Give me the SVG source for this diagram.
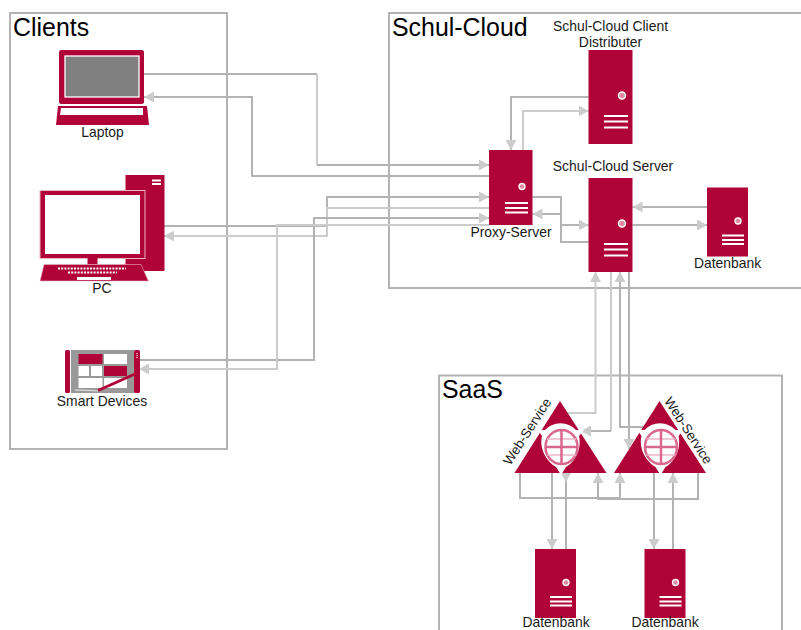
<svg xmlns="http://www.w3.org/2000/svg" width="801" height="630" viewBox="0 0 801 630">
<style>
text{font-family:"Liberation Sans",Arial,sans-serif;font-size:13.9px;fill:#1a1a1a}
.h{font-size:24.9px;fill:#000}
.m{text-anchor:middle}
.w{font-size:13.4px}
.fr{fill:none;stroke:#b3b3b3;stroke-width:2}
.red{fill:#b00337}
.wh{fill:#fff}
.c{fill:none;stroke:#b3b3b3;stroke-width:2}
.l{fill:none;stroke:#ccc;stroke-width:2}
.a{marker-end:url(#ah)}
.ln{stroke:#fff;stroke-width:2;fill:none}
.pk{fill:none;stroke:#eeb5c6;stroke-width:1.500}
</style>
<defs>
<marker id="ah" markerUnits="userSpaceOnUse" markerWidth="10" markerHeight="11" refX="10" refY="5.5" orient="auto"><path d="M0 0L10 5.500L0 11z" fill="#ccc"/></marker>
<g id="srv"><rect class="red" width="44" height="94"/><circle cx="33.500" cy="45.500" r="3.500" fill="#e58aa5" stroke="#fff" stroke-width="1.500"/><path class="ln" d="M15.500 66H39.500M15.500 71.500H39.500M15.500 77.500H39.500"/></g>
<g id="db"><rect class="red" width="41" height="69"/><circle cx="31" cy="33.500" r="3" fill="#e58aa5" stroke="#fff" stroke-width="1.300"/><path class="ln" stroke-width="1.500" d="M15 48H37M15 52.500H37M15 56.500H37"/></g>
<g id="ws">
<path class="red" d="M0 -46L46.500 26H-45.500z"/>
<path class="wh" d="M-22 -17H-15A21 21 0 0 1 16 -17H24L19 -11C22 2 15 15 6 20L1 28L-4 20C-14 14 -21 1 -18 -11z"/>
<ellipse cx="1.500" cy="0" rx="16" ry="17" fill="#fff" stroke="#d9688c" stroke-width="2.500"/>
<path class="pk" d="M-13 -8H16M-13 8H16"/>
<path d="M1.500 -17V17M-14.500 0H17.500" stroke="#d9688c" stroke-width="2.500" fill="none"/>
</g>
</defs>

<g id="frames">
<rect class="fr" x="10" y="13" width="217" height="436"/>
<path class="fr" d="M801 13H389V288H801"/>
<path class="fr" d="M439 630V375.500H782V630"/>
<text class="h" x="13" y="36">Clients</text>
<text class="h" x="392" y="36">Schul-Cloud</text>
<text class="h" x="442" y="398">SaaS</text>
</g>

<g id="connectors">
<path class="c" d="M144 74H317"/>
<path class="l" d="M317 74V165"/>
<path class="c a" d="M317 165H489"/>
<path class="c a" d="M489 176H252V97H144"/>
<path class="c a" d="M164 226H327V197H489"/>
<path class="l a" d="M489 208H327V236H164"/>
<path class="c a" d="M139 360H314V218H489"/>
<path class="l a" d="M489 225H277V369H139"/>
<path class="c a" d="M588.500 97H511V150"/>
<path class="l a" d="M523 150V111H588.500"/>
<path class="c a" d="M532.500 197H561V225H588.500"/>
<path class="c a" d="M588.500 242H561V214H532.500"/>
<path class="c a" d="M707 207H632.500"/>
<path class="c a" d="M632.500 225H707"/>
<path class="l a" d="M561 413H595.500V272"/>
<path class="l" d="M611 272V431"/>
<path class="c a" d="M611 431H581"/>
<path class="c a" d="M643 427H620V272"/>
<path class="c a" d="M629 272V449"/>
<path class="c a" d="M520 473V498H620V473"/>
<path class="c a" d="M698 473V499H598V473"/>
<path class="c a" d="M552 473V549"/>
<path class="c a" d="M566 549V473V482"/>
<path class="c a" d="M654 473V549"/>
<path class="c a" d="M673 549V473"/>
</g>

<g id="laptop">
<rect class="red" x="59" y="50" width="85" height="54" rx="2.500"/>
<rect x="65" y="56" width="74" height="41" fill="#808080" stroke="#fff" stroke-width="1.300"/>
<path class="red" d="M58 106H147L149 125H56z"/>
<path class="wh" d="M61 108H143L143 115H60z"/>
<text class="m" x="102.500" y="137">Laptop</text>
</g>

<g id="pc">
<rect class="red" x="125.500" y="175" width="39" height="96"/>
<path class="ln" stroke-width="1.300" d="M152 180.500H161M152 184H161"/>
<rect class="red" x="40" y="190.500" width="105" height="68" stroke="#e9b3c3" stroke-width="1"/>
<rect class="wh" x="45" y="195" width="95" height="59"/>
<rect class="red" x="87.500" y="258" width="10" height="6.500"/>
<path class="red" d="M44 264.500H141L148.500 281H40z" stroke="#e9b3c3" stroke-width=".6"/>
<path d="M58 268.500H126M68 272.500H117" stroke="#fff" stroke-width="2" stroke-dasharray="2 1.200" fill="none"/>
<rect class="wh" x="77" y="277" width="34" height="3"/>
<text class="m" x="102" y="293">PC</text>
</g>

<g id="smart">
<rect class="red" x="65" y="350" width="5" height="43" rx="1.500"/>
<rect x="71" y="350" width="63" height="43" fill="#999"/>
<rect class="red" x="134" y="350" width="6" height="43" rx="1.500"/>
<rect class="red" x="78.500" y="354" width="24" height="10"/>
<rect class="wh" x="104" y="354" width="23" height="10"/>
<rect class="wh" x="78.500" y="366" width="10.500" height="10"/>
<rect class="wh" x="91" y="366" width="11" height="10"/>
<rect class="red" x="104" y="366" width="23" height="10"/>
<rect class="wh" x="78.500" y="378" width="24" height="10"/>
<rect class="wh" x="104" y="378" width="23" height="10"/>
<path d="M75 390Q86 390 98 391" stroke="#fff" stroke-width=".8" fill="none"/>
<path d="M98 390.500L135 374" stroke="#b00337" stroke-width="3" fill="none"/>
<path d="M137 353V358" stroke="#fff" stroke-width="1.200" stroke-dasharray="1 1" fill="none"/>
<text class="m" x="102" y="406">Smart Devices</text>
</g>

<g id="distributor">
<use href="#srv" x="588.500" y="50"/>
<text class="m" x="610.500" y="31">Schul-Cloud Client</text>
<text class="m" x="610.500" y="47">Distributer</text>
</g>
<g id="proxy">
<rect class="red" x="489" y="150" width="43.500" height="75"/>
<circle cx="522" cy="186.500" r="3" fill="#e58aa5" stroke="#fff" stroke-width="1.300"/>
<path class="ln" stroke-width="1.800" d="M505 203H528M505 208H528M505 212.500H528"/>
<text class="m" x="511" y="237">Proxy-Server</text>
</g>
<g id="server">
<use href="#srv" x="588.500" y="178"/>
<text class="m" x="613" y="171">Schul-Cloud Server</text>
</g>
<g id="db1">
<use href="#db" x="707" y="187.500"/>
<text class="m" x="727.500" y="268">Datenbank</text>
</g>
<g id="ws1">
<use href="#ws" x="560" y="447"/>
<text class="m w" transform="translate(531 434) rotate(-57)">Web-Service</text>
</g>
<g id="ws2">
<use href="#ws" x="659.500" y="447"/>
<text class="m w" transform="translate(684.500 433) rotate(57)">Web-Service</text>
</g>
<g id="db2">
<use href="#db" x="535" y="549"/>
<text class="m" x="556" y="627">Datenbank</text>
</g>
<g id="db3">
<use href="#db" x="644.500" y="549"/>
<text class="m" x="665" y="627">Datenbank</text>
</g>
</svg>
